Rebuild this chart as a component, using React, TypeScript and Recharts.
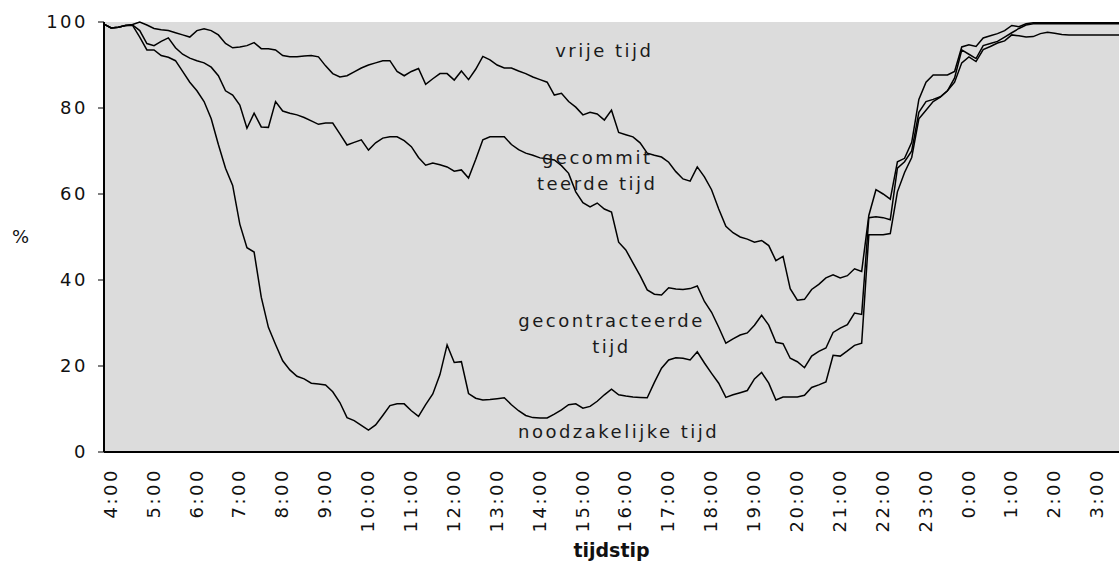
import React from 'react';
import { LineChart, Line, XAxis, YAxis, CartesianGrid, ReferenceDot } from 'recharts';

// Hour tick labels (shown every hour)
const hourLabels = [
  '4:00', '5:00', '6:00', '7:00', '8:00', '9:00', '10:00', '11:00', '12:00', '13:00',
  '14:00', '15:00', '16:00', '17:00', '18:00', '19:00', '20:00', '21:00', '22:00', '23:00',
  '0:00', '1:00', '2:00', '3:00',
];
const minuteMarks = ['00', '10', '20', '30', '40', '50'];
// 10-minute categories from 4:00 to 3:40
const timeCategories = hourLabels
  .flatMap((h) => minuteMarks.map((m) => h.split(':')[0] + ':' + m))
  .slice(0, 143);

// Upper boundary (vrije tijd above it)
const bovensteLijn = [
  99.5, 98.6, 98.8, 99.2, 99.4, 100, 99.3, 98.5, 98.2, 98,
  97.5, 97, 96.5, 98, 98.4, 98, 97, 95, 94, 94.2,
  94.5, 95.2, 93.8, 93.8, 93.5, 92.2, 91.9, 91.9, 92.1, 92.2,
  91.9, 89.8, 88, 87.2, 87.5, 88.4, 89.3, 90, 90.5, 91,
  91, 88.5, 87.5, 88.5, 89.2, 85.5, 86.8, 88, 88, 86.5,
  88.6, 86.6, 89, 92, 91.2, 90, 89.3, 89.3, 88.6, 88,
  87.2, 86.6, 86, 83, 83.4, 81.5, 80.2, 78.4, 79, 78.6,
  77.2, 79.5, 74.3, 73.8, 73.3, 71.9, 69.5, 69, 68.6, 67.4,
  65.2, 63.5, 63, 66.3, 64, 61, 56.5, 52.5, 51, 50,
  49.5, 48.8, 49.2, 48, 44.5, 45.5, 38, 35.3, 35.5, 37.8,
  39, 40.5, 41.2, 40.5, 41, 42.6, 42, 55, 61, 60,
  58.8, 67.5, 68.3, 72, 82, 86, 87.7, 87.7, 87.7, 88.5,
  94.2, 94.7, 94.3, 96.3, 96.8, 97.3, 98, 99.2, 98.9, 99.6,
  99.8, 99.8, 99.8, 99.8, 99.8, 99.8, 99.8, 99.8, 99.8, 99.8, 99.8, 99.8, 99.8,
];

// Middle boundary (gecommitteerde tijd above, gecontracteerde tijd below)
const middelsteLijn = [
  99.5, 98.6, 98.8, 99.2, 99.3, 98, 95, 94.5, 95.5, 96.3,
  94, 92.5, 91.6, 91, 90.5, 89.5, 87.5, 84, 83, 80.7,
  75.3, 78.8, 75.6, 75.5, 81.5, 79.3, 78.8, 78.4, 77.8, 77,
  76.2, 76.5, 76.5, 74, 71.4, 72, 72.6, 70.2, 71.9, 73,
  73.3, 73.3, 72.4, 71, 68.5, 66.7, 67.2, 66.8, 66.3, 65.3,
  65.6, 63.7, 68, 72.6, 73.3, 73.3, 73.3, 71.5, 70.3, 69.5,
  69, 68.4, 68.2, 67.9, 66.6, 64.8, 60.5, 58, 57, 57.9,
  56.5, 55.8, 48.8, 47, 44, 41, 37.7, 36.7, 36.5, 38.2,
  37.9, 37.8, 38, 38.6, 35, 32.5, 29, 25.3, 26.3, 27.2,
  27.7, 29.5, 31.8, 29.5, 25.5, 25.2, 21.8, 21, 19.6, 22.3,
  23.4, 24.2, 27.8, 28.8, 29.6, 32.3, 32, 54.5, 54.7, 54.5,
  54, 66, 67.5, 70, 79, 81.5, 82, 82.6, 84, 87,
  93.5, 92.5, 91.5, 94.5, 95, 95.5, 96.5, 97.5, 98.5, 99.3,
  99.6, 99.6, 99.6, 99.6, 99.6, 99.6, 99.6, 99.6, 99.6, 99.6, 99.6, 99.6, 99.6,
];

// Lower boundary (noodzakelijke tijd below it)
const ondersteLijn = [
  99.5, 98.6, 98.8, 99.2, 99.2, 96.5, 93.5, 93.5, 92.2, 91.8,
  91, 88.5, 86, 84, 81.5, 77.5, 71.5, 66, 62, 53,
  47.5, 46.5, 36, 29, 25, 21.2, 19.1, 17.6, 17, 16,
  15.8, 15.6, 14, 11.5, 8, 7.3, 6.2, 5.1, 6.3, 8.5,
  10.8, 11.2, 11.2, 9.6, 8.3, 11, 13.5, 18, 24.9, 20.8,
  21, 13.6, 12.5, 12.1, 12.2, 12.4, 12.6, 11, 9.6, 8.5,
  8, 7.9, 7.9, 8.8, 9.8, 11, 11.2, 10.2, 10.6, 11.8,
  13.3, 14.6, 13.3, 13, 12.8, 12.7, 12.6, 16.2, 19.5, 21.4,
  21.9, 21.8, 21.4, 23.3, 20.7, 18.3, 16, 12.7, 13.3, 13.8,
  14.3, 17, 18.5, 16, 12.1, 12.8, 12.8, 12.8, 13.2, 15,
  15.6, 16.3, 22.5, 22.3, 23.5, 24.8, 25.3, 50.5, 50.5, 50.5,
  50.8, 60.5, 65, 68.5, 77.5, 79.5, 81.5, 82.5, 84, 86,
  90.5, 91.9, 90.8, 93.6, 94.3, 95.1, 95.6, 97, 96.8, 96.5,
  96.6, 97.3, 97.6, 97.4, 97.1, 97, 97, 97, 97, 97, 97, 97, 97,
];

const yTicks = [0, 20, 40, 60, 80, 100];

const annotationTexts = [
  ['vrije tijd'],
  ['gecommit', 'teerde tijd'],
  ['gecontracteerde', 'tijd'],
  ['noodzakelijke tijd'],
];
const annotationAt = ['15:40', '15:30', '15:50', '16:00'];
const annotationValue = [93.3, 68.4, 30.5, 4.65];

const data = timeCategories.map((t, i) => ({
  t,
  boven: bovensteLijn[i],
  midden: middelsteLijn[i],
  onder: ondersteLijn[i],
}));

const FONT = 'DejaVu Sans';

const makeAnno = (lines: string[]) => (props: any) => {
  const vb = props && props.viewBox ? props.viewBox : { x: 0, y: 0, width: 0, height: 0 };
  const cx = vb.x + (vb.width || 0) / 2;
  const cy = vb.y + (vb.height || 0) / 2;
  return (
    <text
      x={cx}
      y={cy}
      textAnchor="middle"
      fontFamily={FONT}
      fontSize={18}
      letterSpacing={2.5}
      fill="#1a1a1a"
    >
      {lines.map((l, k) => (
        <tspan key={k} x={cx} dy={k === 0 ? 6 : 26}>
          {l}
        </tspan>
      ))}
    </text>
  );
};

export default function App() {
  return (
    <div style={{ position: 'absolute', left: 0, top: 0, width: 1119, height: 570, background: '#fff', fontFamily: FONT }}>
      <LineChart
        width={1119}
        height={570}
        data={data}
        margin={{ top: 22, right: 0, bottom: 0, left: 0 }}
      >
        <CartesianGrid fill="#dcdcdc" stroke="none" horizontal={false} vertical={false} />
        <XAxis
          dataKey="t"
          type="category"
          interval={5}
          height={118}
          axisLine={{ stroke: '#000', strokeWidth: 2 }}
          tickLine={false}
          tickSize={0}
          tickMargin={16}
          tick={{
            angle: -90,
            textAnchor: 'end',
            verticalAnchor: 'middle',
            fontFamily: FONT,
            fontSize: 18,
            letterSpacing: 2.5,
            fill: '#111',
          } as any}
          label={{
            value: 'tijdstip',
            position: 'insideBottom',
            offset: 13,
            style: { fontFamily: FONT, fontSize: 19, fontWeight: 'bold', fill: '#111' },
          }}
        />
        <YAxis
          domain={[0, 100]}
          ticks={yTicks}
          width={104}
          axisLine={{ stroke: '#000', strokeWidth: 2 }}
          tickLine={{ stroke: '#000' }}
          tickSize={6}
          tickMargin={10}
          tick={{ fontFamily: FONT, fontSize: 18, letterSpacing: 2.5, fill: '#111' } as any}
          label={{
            value: '%',
            position: 'insideLeft',
            offset: 12,
            angle: 0,
            style: { fontFamily: FONT, fontSize: 18, fill: '#111' },
          }}
        />
        <Line type="linear" dataKey="boven" stroke="#000" strokeWidth={1.5} dot={false} isAnimationActive={false} />
        <Line type="linear" dataKey="midden" stroke="#000" strokeWidth={1.5} dot={false} isAnimationActive={false} />
        <Line type="linear" dataKey="onder" stroke="#000" strokeWidth={1.5} dot={false} isAnimationActive={false} />
        {annotationTexts.map((lines, k) => (
          <ReferenceDot
            key={k}
            x={annotationAt[k]}
            y={annotationValue[k]}
            r={0}
            fill="none"
            stroke="none"
            label={makeAnno(lines)}
          />
        ))}
      </LineChart>
    </div>
  );
}
